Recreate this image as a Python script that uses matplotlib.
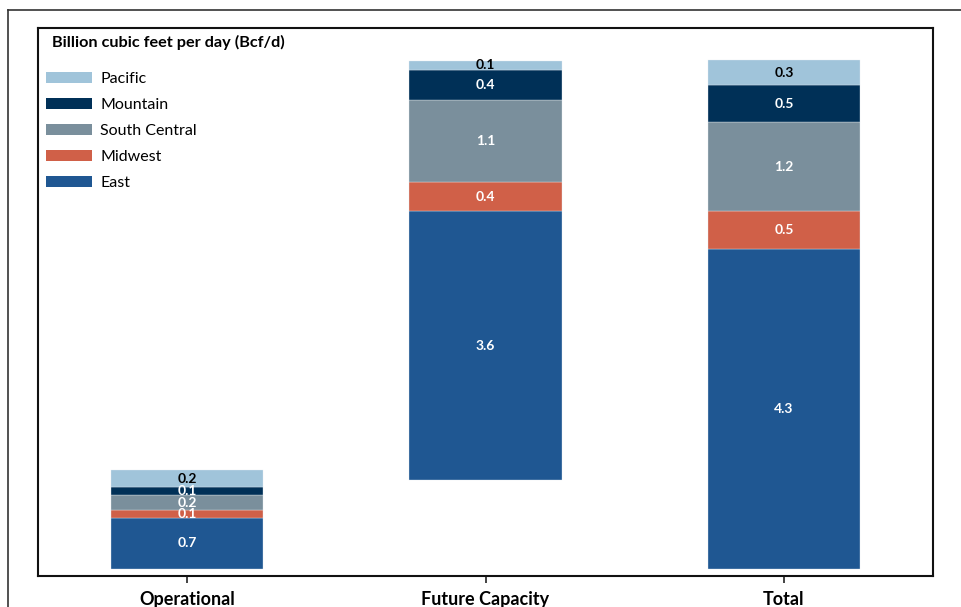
import matplotlib.pyplot as plt
from matplotlib.patches import Patch
from matplotlib.lines import Line2D

plt.rcParams['font.family'] = ['Lato', 'DejaVu Sans']

# data (Bcf/d)
categories = ["Operational", "Future Capacity", "Total"]
regions = ["East", "Midwest", "South Central", "Mountain", "Pacific"]
base = [0.0, 1.19, 0.0]  # future capacity floats on top of operational
east = [0.685, 3.59, 4.28]
midwest = [0.103, 0.39, 0.50]
south_central = [0.20, 1.10, 1.19]
mountain = [0.103, 0.40, 0.50]
pacific = [0.23, 0.124, 0.33]

colors = {
    "East": "#1f5792",
    "Midwest": "#d06048",
    "South Central": "#7a8f9c",
    "Mountain": "#003057",
    "Pacific": "#a0c4da",
}
label_color = {"East": "white", "Midwest": "white", "South Central": "white",
               "Mountain": "white", "Pacific": "black"}

series = {"East": east, "Midwest": midwest, "South Central": south_central,
          "Mountain": mountain, "Pacific": pacific}

fig = plt.figure(figsize=(9.61, 6.07), dpi=100)
ax = fig.add_axes([38 / 961, 31 / 607, 895 / 961, 548 / 607])

x = list(range(len(categories)))
bottom = list(base)
for r in regions:
    vals = series[r]
    ax.bar(x, vals, width=0.51, bottom=bottom, color=colors[r],
           edgecolor="#e4ecf2", linewidth=0.25)
    for i, v in enumerate(vals):
        ax.text(i, bottom[i] + v / 2, f"{v:.1f}", ha="center", va="center",
                color=label_color[r], fontsize=10, fontweight="bold")
    bottom = [b + v for b, v in zip(bottom, vals)]

ax.set_xlim(-0.5, 2.5)
ax.set_ylim(-0.094, 7.23)
ax.set_xticks(x)
ax.set_xticklabels(categories, fontsize=13, fontweight="bold")
ax.tick_params(axis="x", length=5, width=1.2, pad=5.5, color="#222222")
ax.set_yticks([])
for s in ax.spines.values():
    s.set_linewidth(1.5)
    s.set_color("#111111")

# legend
handles = [Patch(facecolor=colors[r], edgecolor="none", label=r)
           for r in ["Pacific", "Mountain", "South Central", "Midwest", "East"]]
ax.legend(handles=handles, loc="upper left", bbox_to_anchor=(0.002, 0.932),
          frameon=False, fontsize=11.5, handlelength=2.9, handleheight=0.7,
          labelspacing=0.74, handletextpad=0.5, borderaxespad=0)
ax.text(52 / 961, (607 - 42) / 607, "Billion cubic feet per day (Bcf/d)",
        transform=fig.transFigure, fontsize=11.7, fontweight="bold",
        ha="left", va="center")

# outer frame
fig.add_artist(Line2D([8 / 961, 8 / 961], [-0.01, (607 - 10) / 607],
                      transform=fig.transFigure, color="#333333", lw=1.2))
fig.add_artist(Line2D([8 / 961, 1.01], [(607 - 10) / 607, (607 - 10) / 607],
                      transform=fig.transFigure, color="#333333", lw=1.2))

fig.savefig("out.png", dpi=100)
